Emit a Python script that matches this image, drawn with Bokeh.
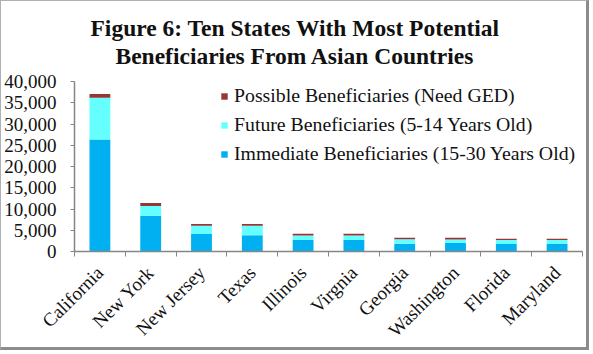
import math
from bokeh.plotting import figure
from bokeh.models import (ColumnDataSource, FixedTicker, NumeralTickFormatter,
                          Legend, LegendItem, Title, Range1d)
from bokeh.embed import file_html
from bokeh.resources import INLINE

states = ["California", "New York", "New Jersey", "Texas", "Illinois",
          "Virgnia", "Georgia", "Washington", "Florida", "Maryland"]
immediate = [26350, 8400, 4100, 3850, 2700, 2700, 1820, 2070, 1780, 1780]
future = [9800, 2280, 1950, 2200, 1050, 1050, 1080, 780, 900, 900]
possible = [900, 750, 420, 420, 400, 400, 330, 380, 330, 330]
series_names = ["Immediate Beneficiaries (15-30 Years Old)",
                "Future Beneficiaries (5-14 Years Old)",
                "Possible Beneficiaries (Need GED)"]
colors = ["#00B0F0", "#66FFFF", "#953735"]
y_ticks = [0, 5000, 10000, 15000, 20000, 25000, 30000, 35000, 40000]

FONT = "Liberation Serif"

xpos = [i + 0.5 for i in range(len(states))]
src = ColumnDataSource(dict(x=xpos, immediate=immediate, future=future,
                            possible=possible))

p = figure(width=589, height=350, output_backend="svg", toolbar_location=None,
           x_range=Range1d(0, len(states)), y_range=Range1d(0, 40000),
           min_border_left=72, min_border_right=8, min_border_top=80,
           min_border_bottom=100)
p.styles = {"border-left": "1px solid #b0b0b0", "border-top": "1px solid #b0b0b0",
            "border-right": "3px solid #8c8c8c", "border-bottom": "3px solid #8c8c8c"}
p.background_fill_color = "white"
p.border_fill_color = "white"
p.outline_line_color = None
p.xgrid.visible = False
p.ygrid.visible = False

renderers = p.vbar_stack(["immediate", "future", "possible"], x="x", width=0.41,
                         source=src, color=colors, line_color=None)

# Titles (added nearest-to-frame first)
spacer = Title(text=" ", text_font=FONT, text_font_size="10px", standoff=0)
t2 = Title(text="Beneficiaries From Asian Countries", align="left",
           text_font=FONT, text_font_size="23.5px", text_font_style="bold",
           text_color="#111111", standoff=0, offset=41)
t1 = Title(text="Figure 6: Ten States With Most Potential", align="left",
           text_font=FONT, text_font_size="23.5px", text_font_style="bold",
           text_color="#111111", standoff=0, offset=16)
p.add_layout(spacer, "above")
p.add_layout(t2, "above")
p.add_layout(t1, "above")

# Axes
ax = p.xaxis[0]
ax.ticker = FixedTicker(ticks=xpos, minor_ticks=list(range(len(states) + 1)))
ax.major_label_overrides = {x: s for x, s in zip(xpos, states)}
ax.major_label_orientation = math.pi / 4
ax.major_tick_line_color = None
ax.minor_tick_line_color = "#868686"
ax.minor_tick_out = 5
ax.minor_tick_in = 0
ax.axis_line_color = "#868686"
ax.axis_line_width = 1.5
ax.major_label_text_font = FONT
ax.major_label_text_font_size = "19px"
ax.major_label_text_color = "#111111"
ax.major_label_standoff = 12

ay = p.yaxis[0]
ay.ticker = FixedTicker(ticks=y_ticks)
ay.formatter = NumeralTickFormatter(format="0,0")
ay.minor_tick_line_color = None
ay.major_tick_line_color = "#868686"
ay.major_tick_out = 4
ay.major_tick_in = 0
ay.axis_line_color = "#868686"
ay.axis_line_width = 1.5
ay.major_label_text_font = FONT
ay.major_label_text_font_size = "19px"
ay.major_label_text_color = "#111111"
ay.major_label_standoff = 14

items = [LegendItem(label=series_names[i], renderers=[renderers[i]]) for i in (2, 1, 0)]
legend = Legend(items=items, location=(146, 86), orientation="vertical",
                label_text_font=FONT, label_text_font_size="19.8px",
                label_text_color="#111111", glyph_width=8, glyph_height=8,
                label_height=20, label_standoff=6, spacing=6, padding=0, margin=0,
                background_fill_alpha=0, border_line_color=None)
p.add_layout(legend, "center")

open("out.html", "w").write(file_html(p, INLINE))
